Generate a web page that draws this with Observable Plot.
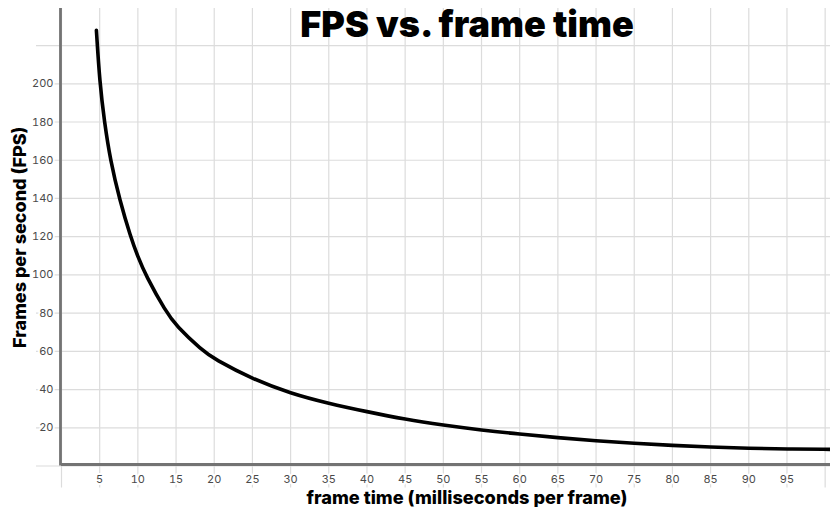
<!DOCTYPE html>
<html><head><meta charset="utf-8">
<script src="https://cdn.jsdelivr.net/npm/d3@7"></script>
<script src="https://cdn.jsdelivr.net/npm/@observablehq/plot@0.6"></script>
<style>body{margin:0;background:#fff} #chart svg{display:block}</style>
</head><body><div id="chart"></div>
<script>
const frameTimeMs = [4.57, 5, 5.62, 6.4, 7.63, 9.04, 10, 11, 13.7, 15, 18.4, 20, 25, 30, 35, 40, 45, 50, 55, 60, 65, 70, 75, 80, 85, 90, 95, 100.7];
const fps = [228, 201, 180, 160, 139, 120, 109.5, 100, 80.5, 73.5, 60.5, 56, 45.5, 38, 32.7, 28.4, 24.4, 21.4, 18.8, 16.7, 14.8, 13.2, 11.8, 10.8, 9.9, 9.2, 8.9, 8.7];
const xGridTicks = [0, 5, 10, 15, 20, 25, 30, 35, 40, 45, 50, 55, 60, 65, 70, 75, 80, 85, 90, 95, 100];
const xTickLabels = [5, 10, 15, 20, 25, 30, 35, 40, 45, 50, 55, 60, 65, 70, 75, 80, 85, 90, 95];
const yGridTicks = [0, 20, 40, 60, 80, 100, 120, 140, 160, 180, 200, 220];
const yTickLabels = [20, 40, 60, 80, 100, 120, 140, 160, 180, 200];
const title = "FPS vs. frame time";
const xLabel = "frame time (milliseconds per frame)";
const yLabel = "Frames per second (FPS)";

const data = frameTimeMs.map((x, i) => ({x, y: fps[i]}));

const chart = Plot.plot({
  width: 830, height: 507,
  marginLeft: 61, marginRight: 0, marginTop: 8, marginBottom: 41.5,
  x: {domain: [0, 100.7], axis: null},
  y: {domain: [0, 239.4], axis: null},
  style: {fontFamily: "Inter, 'Noto Sans', sans-serif", background: "#fff"},
  marks: [
    Plot.ruleX(xGridTicks, {x: d => d, stroke: "#dcdcdc", strokeWidth: 1.2, insetBottom: -22}),
    Plot.ruleY(yGridTicks, {y: d => d, stroke: "#dcdcdc", strokeWidth: 1.2, insetLeft: -25}),
    Plot.text(xTickLabels, {x: d => d, frameAnchor: "bottom", dy: 13, lineAnchor: "middle", fill: "#4a4a4a", fontSize: 11, stroke: "white", strokeWidth: 4}),
    Plot.text(yTickLabels, {y: d => d, frameAnchor: "left", dx: -8, textAnchor: "end", lineAnchor: "middle", fill: "#4a4a4a", fontSize: 11, stroke: "white", strokeWidth: 4}),
    Plot.ruleX([0], {x: d => d, stroke: "#737373", strokeWidth: 2.8, dx: -1}),
    Plot.ruleY([0], {y: d => d, stroke: "#737373", strokeWidth: 2.8, dy: -1.5}),
    Plot.line(data, {x: "x", y: "y", stroke: "black", strokeWidth: 3.6, curve: "basis"}),
    Plot.text([title], {frameAnchor: "top", dx: 21, dy: 17, lineAnchor: "middle", fontSize: 36, fontWeight: 900, fill: "black"}),
    Plot.text([yLabel], {frameAnchor: "left", dx: -41, rotate: -90, textAnchor: "middle", lineAnchor: "middle", fontSize: 18, fontWeight: 800, fill: "black"}),
    Plot.text([xLabel], {frameAnchor: "bottom", dx: 21, dy: 32, lineAnchor: "middle", fontSize: 18.2, fontWeight: 800, fill: "black"})
  ]
});
document.getElementById("chart").append(chart);
</script>
</body></html>
